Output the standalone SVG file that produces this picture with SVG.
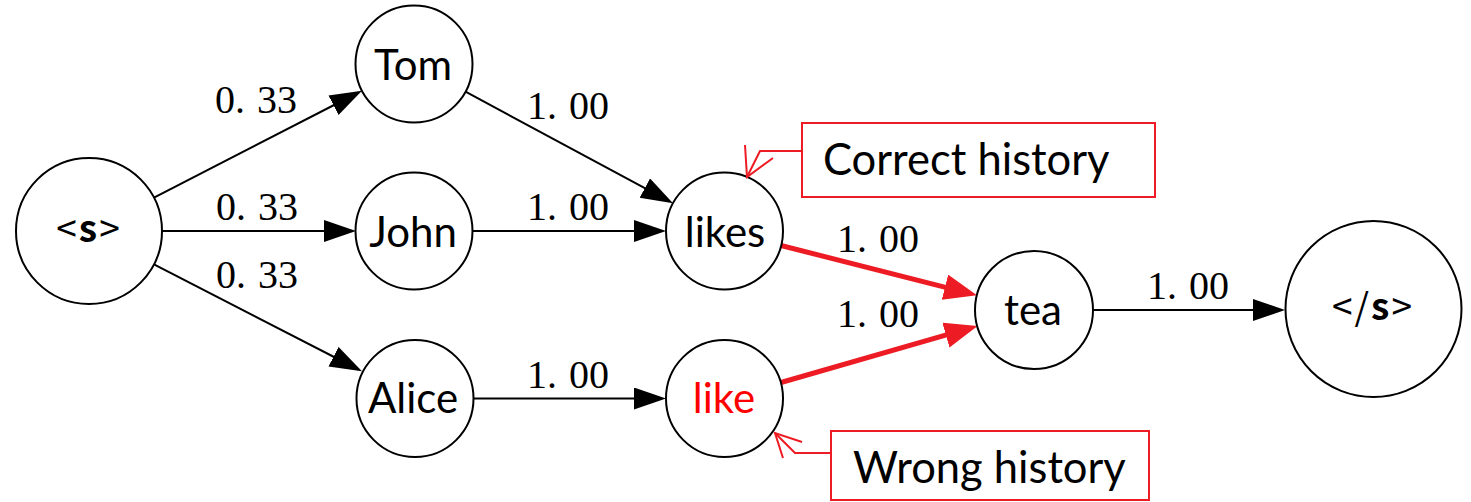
<svg xmlns="http://www.w3.org/2000/svg" width="1471" height="502" viewBox="0 0 1471 502">
<style>
.node{fill:#fff;stroke:#000;stroke-width:2}
.nl{font-family:Lato,"Noto Sans",sans-serif;font-size:42px;text-anchor:middle;fill:#000}
.tag{font-family:"Noto Sans CJK SC","DejaVu Sans",sans-serif;font-size:37px;text-anchor:middle;fill:#000;letter-spacing:2px}
.b{font-weight:bold}
.el{font-family:"Liberation Serif",serif;font-size:40px;fill:#000}
.e{stroke:#000;stroke-width:2;fill:none}
.r{stroke:#ed1c24;stroke-width:5;fill:none}
.co{stroke:#ed1c24;stroke-width:2;fill:none}
.box{fill:#fff;stroke:#ed1c24;stroke-width:2}
.cl{font-family:Lato,"Noto Sans",sans-serif;font-size:43.5px;fill:#000}
</style>
<defs>
<marker id="ab" markerUnits="userSpaceOnUse" markerWidth="34" markerHeight="24" refX="28" refY="11" orient="auto"><path d="M0,0 L32,11 L0,22 z" fill="#000"/></marker>
<marker id="ar" markerUnits="userSpaceOnUse" markerWidth="36" markerHeight="28" refX="25" refY="13" orient="auto"><path d="M0,0 L33,13 L0,26 z" fill="#ed1c24"/></marker>
</defs>
<g id="connectors">
<line class="e" x1="154" y1="197.6" x2="358.4" y2="92.5" marker-end="url(#ab)"/>
<line class="e" x1="162" y1="231" x2="352" y2="231" marker-end="url(#ab)"/>
<line class="e" x1="154" y1="264.4" x2="358.4" y2="369.5" marker-end="url(#ab)"/>
<line class="e" x1="465.5" y1="91.7" x2="669.5" y2="201.4" marker-end="url(#ab)"/>
<line class="e" x1="473" y1="231" x2="662" y2="231" marker-end="url(#ab)"/>
<line class="e" x1="473" y1="398.5" x2="662" y2="398.5" marker-end="url(#ab)"/>
<line class="e" x1="1093" y1="310" x2="1281" y2="310" marker-end="url(#ab)"/>
<line class="r" x1="781" y1="245.5" x2="969.2" y2="293.4" marker-end="url(#ar)"/>
<line class="r" x1="781" y1="382.5" x2="969.9" y2="328.2" marker-end="url(#ar)"/>
<text class="el" x="215" y="113">0.<tspan dx="12">33</tspan></text>
<text class="el" x="216" y="220">0.<tspan dx="12">33</tspan></text>
<text class="el" x="216" y="288">0.<tspan dx="12">33</tspan></text>
<text class="el" x="527" y="119">1.<tspan dx="12">00</tspan></text>
<text class="el" x="527" y="220">1.<tspan dx="12">00</tspan></text>
<text class="el" x="527" y="388">1.<tspan dx="12">00</tspan></text>
<text class="el" x="837" y="252">1.<tspan dx="12">00</tspan></text>
<text class="el" x="837" y="327">1.<tspan dx="12">00</tspan></text>
<text class="el" x="1147" y="299">1.<tspan dx="12">00</tspan></text>
</g>
<g id="n-s"><circle class="node" cx="89" cy="231" r="73"/><text class="tag" x="89" y="242">&lt;<tspan class="b">s</tspan>&gt;</text></g>
<g id="n-tom"><circle class="node" cx="414" cy="64" r="58.5"/><text class="nl" x="413" y="80">Tom</text></g>
<g id="n-john"><circle class="node" cx="414" cy="231" r="58.5"/><text class="nl" x="413" y="247">John</text></g>
<g id="n-alice"><circle class="node" cx="415" cy="398.5" r="58.5"/><text class="nl" x="413" y="413">Alice</text></g>
<g id="n-likes"><circle class="node" cx="724.5" cy="231" r="58.5"/><text class="nl" x="725" y="247">likes</text></g>
<g id="n-like"><circle class="node" cx="724.5" cy="398.5" r="58.5"/><text class="nl" x="724" y="413" style="fill:#ff0000">like</text></g>
<g id="n-tea"><circle class="node" cx="1034" cy="310" r="59"/><text class="nl" x="1033" y="325">tea</text></g>
<g id="n-end"><circle class="node" cx="1373.5" cy="309" r="88"/><text class="tag" x="1373" y="320">&lt;/<tspan class="b">s</tspan>&gt;</text></g>
<g id="callout-correct">
<rect class="box" x="802" y="123" width="353" height="74"/>
<text class="cl" x="823" y="175">Correct history</text>
<polyline class="co" points="802,151 760,151 747,177"/>
<polyline class="co" points="745,145 747,177 773,158"/>
</g>
<g id="callout-wrong">
<rect class="box" x="831" y="431" width="318" height="69"/>
<text class="cl" x="853" y="483">Wrong history</text>
<polyline class="co" points="831,453 795,453 775,433"/>
<polyline class="co" points="802,442 775,433 783,458"/>
</g>
</svg>
